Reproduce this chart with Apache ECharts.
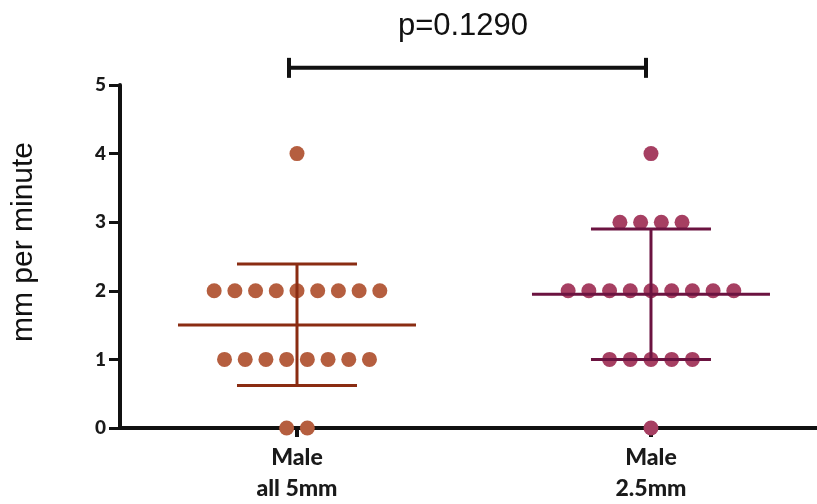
<!DOCTYPE html>
<html><head><meta charset="utf-8">
<script src="https://cdn.jsdelivr.net/npm/echarts@6/dist/echarts.min.js"></script>
<style>html,body{margin:0;padding:0;background:#fff}#c{width:817px;height:504px}</style>
</head><body><div id="c"></div>
<script>
const categories = ['Male\nall 5mm', 'Male\n2.5mm'];
const group1Values = [4, 2,2,2,2,2,2,2,2,2, 1,1,1,1,1,1,1,1, 0,0];
const group2Values = [4, 3,3,3,3, 2,2,2,2,2,2,2,2,2, 1,1,1,1,1, 0];
const group1Stats = {mean: 1.5, low: 0.62, high: 2.39};
const group2Stats = {mean: 1.95, low: 1.0, high: 2.9};
const pLabel = 'p=0.1290';
const yAxisTitle = 'mm per minute';
const yTicks = [0, 1, 2, 3, 4, 5];

const colors = [
  {dot: '#b55e3f', line: '#8a2c12'},
  {dot: '#a63f62', line: '#6b1340'}
];
const STEP = 0.0585; // horizontal dot spacing in axis units

function swarm(values, cat) {
  const counts = {};
  values.forEach(v => counts[v] = (counts[v] || 0) + 1);
  const idx = {};
  return values.map(v => {
    const n = counts[v];
    const i = idx[v] = (idx[v] === undefined ? 0 : idx[v] + 1);
    return [cat + (i - (n - 1) / 2) * STEP, v];
  });
}

const chart = echarts.init(document.getElementById('c'));
const stats = [group1Stats, group2Stats];

function errRender(params, api) {
  const i = params.dataIndex;
  const x = api.value(0), m = api.value(1), lo = api.value(2), hi = api.value(3);
  const pm = api.coord([x, m]), pl = api.coord([x, lo]), ph = api.coord([x, hi]);
  const st = {stroke: colors[i].line, lineWidth: 3};
  return {type: 'group', children: [
    {type: 'line', shape: {x1: pm[0] - 119, y1: pm[1], x2: pm[0] + 119, y2: pm[1]}, style: st},
    {type: 'line', shape: {x1: pl[0], y1: pl[1], x2: ph[0], y2: ph[1]}, style: st},
    {type: 'line', shape: {x1: ph[0] - 60, y1: ph[1], x2: ph[0] + 60, y2: ph[1]}, style: st},
    {type: 'line', shape: {x1: pl[0] - 60, y1: pl[1], x2: pl[0] + 60, y2: pl[1]}, style: st}
  ]};
}

function bracketRender(params, api) {
  const a = api.coord([api.value(0), api.value(2)]);
  const b = api.coord([api.value(1), api.value(2)]);
  const st = {stroke: '#111', lineWidth: 4};
  return {type: 'group', children: [
    {type: 'line', shape: {x1: a[0] - 8, y1: a[1], x2: b[0] - 5, y2: b[1]}, style: st},
    {type: 'line', shape: {x1: a[0] - 8, y1: a[1] - 10, x2: a[0] - 8, y2: a[1] + 10}, style: st},
    {type: 'line', shape: {x1: b[0] - 5, y1: b[1] - 10, x2: b[0] - 5, y2: b[1] + 10}, style: st},
    {type: 'text', style: {x: (a[0] + b[0]) / 2 - 11, y: a[1] - 41, text: pLabel, fill: '#111',
      font: '31px "Liberation Sans", Arial, sans-serif', align: 'center', verticalAlign: 'middle'}}
  ]};
}

chart.setOption({
  animation: false,
  grid: {left: 120, right: 0, top: 85, bottom: 73},
  graphic: [{
    type: 'text', x: 24, y: 242, rotation: Math.PI / 2,
    style: {text: yAxisTitle, fill: '#111', font: '30px "Liberation Sans", Arial, sans-serif',
      align: 'center', verticalAlign: 'middle'}
  }],
  xAxis: {
    type: 'value', min: 0.5, max: 2.469, splitLine: {show: false},
    axisLine: {show: true, lineStyle: {color: '#111', width: 4}},
    axisTick: {show: true, customValues: [1, 2], length: 9, lineStyle: {color: '#111', width: 4}},
    axisLabel: {show: true, customValues: [1, 2], margin: 14,
      formatter: v => categories[Math.round(v) - 1] || '',
      color: '#1a1a1a', fontFamily: 'Lato, "Open Sans", sans-serif', fontWeight: 900, fontSize: 23, lineHeight: 31}
  },
  yAxis: {
    type: 'value', min: 0, max: 5, interval: 1, splitLine: {show: false},
    axisLine: {show: true, lineStyle: {color: '#111', width: 4}},
    axisTick: {show: true, length: 11, lineStyle: {color: '#111', width: 3}},
    axisLabel: {color: '#1a1a1a', fontFamily: 'Lato, "Open Sans", sans-serif', fontWeight: 900, fontSize: 19, margin: 14,
      formatter: v => yTicks.includes(v) ? String(v) : ''}
  },
  series: [
    {type: 'scatter', data: swarm(group1Values, 1), symbolSize: 15, clip: false, z: 3,
      itemStyle: {color: colors[0].dot, opacity: 1}},
    {type: 'scatter', data: swarm(group2Values, 2), symbolSize: 15, clip: false, z: 3,
      itemStyle: {color: colors[1].dot, opacity: 1}},
    {type: 'custom', renderItem: errRender, clip: false, z: 4,
      data: stats.map((s, i) => [i + 1, s.mean, s.low, s.high])},
    {type: 'custom', renderItem: bracketRender, clip: false, z: 5,
      data: [[1, 2, 5.25]]}
  ]
});
</script></body></html>
